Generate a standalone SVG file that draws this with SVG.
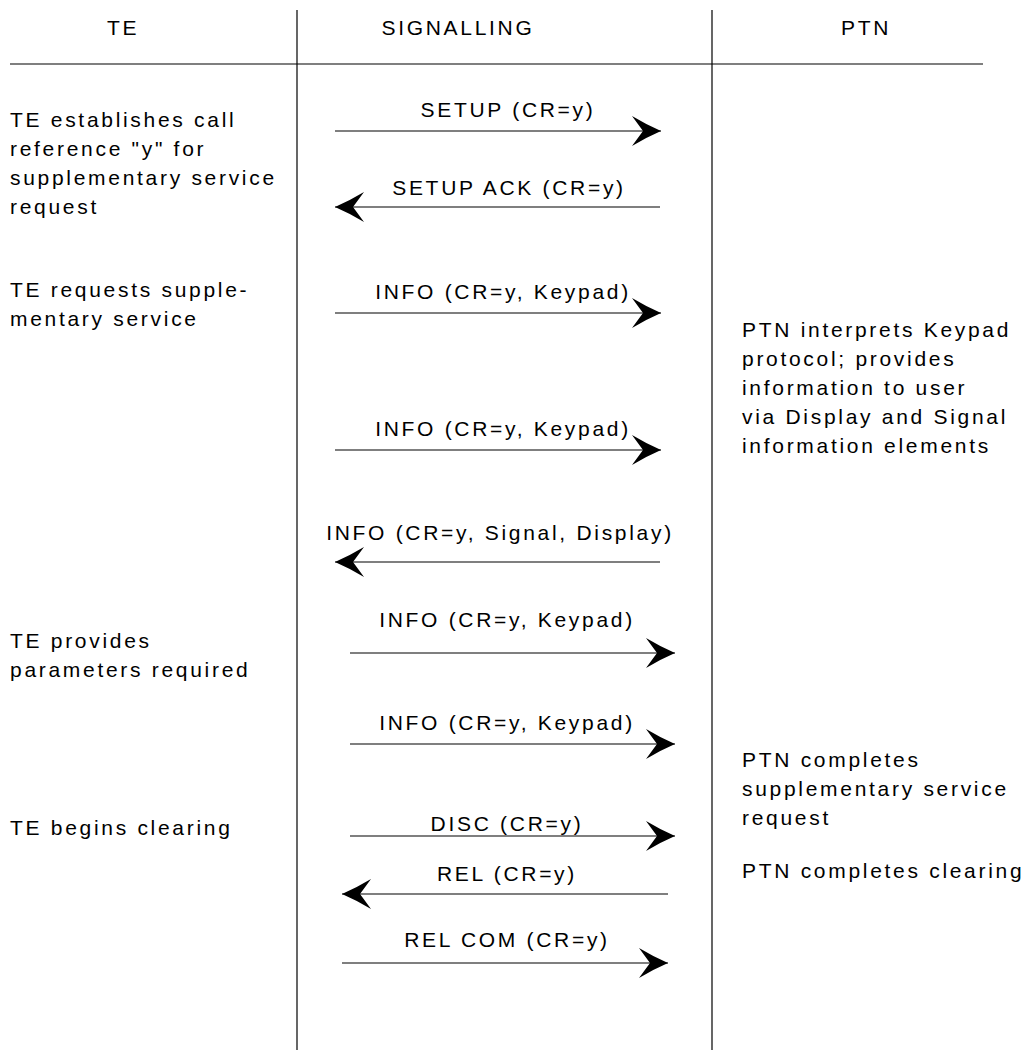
<svg xmlns="http://www.w3.org/2000/svg" width="1029" height="1050" viewBox="0 0 1029 1050">
<style>
text{font-family:"Liberation Sans",Arial,sans-serif;font-size:21px;letter-spacing:2.7px;fill:#000}
.m{text-anchor:middle}
.ln{stroke:#000;stroke-width:1.2;fill:none}
.msg{stroke:#000;stroke-width:1.2;fill:none;marker-end:url(#ah)}
</style>
<defs>
<marker id="ah" markerUnits="userSpaceOnUse" markerWidth="32" markerHeight="32" viewBox="-30 -16 32 32" refX="0" refY="0" orient="auto">
<path d="M0,0 Q-14,-6 -29,-15 L-18,0 L-29,15 Q-14,6 0,0Z" fill="#000"/>
</marker>
</defs>
<rect width="1029" height="1050" fill="#fff"/>
<g id="frame">
<line class="ln" x1="10" y1="64" x2="983" y2="64"/>
<line class="ln" x1="297" y1="10" x2="297" y2="1050"/>
<line class="ln" x1="712" y1="10" x2="712" y2="1050"/>
</g>
<g id="headers">
<text class="m" x="123" y="35">TE</text>
<text class="m" x="458" y="35">SIGNALLING</text>
<text class="m" x="866" y="35">PTN</text>
</g>
<g id="te-notes">
<text x="10" y="127">TE establishes call</text>
<text x="10" y="156">reference "y" for</text>
<text x="10" y="185">supplementary service</text>
<text x="10" y="214">request</text>
<text x="10" y="297">TE requests supple-</text>
<text x="10" y="326">mentary service</text>
<text x="10" y="648">TE provides</text>
<text x="10" y="677">parameters required</text>
<text x="10" y="835">TE begins clearing</text>
</g>
<g id="ptn-notes">
<text x="742" y="337">PTN interprets Keypad</text>
<text x="742" y="366">protocol; provides</text>
<text x="742" y="395">information to user</text>
<text x="742" y="424">via Display and Signal</text>
<text x="742" y="453">information elements</text>
<text x="742" y="767">PTN completes</text>
<text x="742" y="796">supplementary service</text>
<text x="742" y="825">request</text>
<text x="742" y="878">PTN completes clearing</text>
</g>
<g id="labels">
<text class="m" x="508" y="117">SETUP (CR=y)</text>
<text class="m" x="509" y="195">SETUP ACK (CR=y)</text>
<text class="m" x="503" y="299">INFO (CR=y, Keypad)</text>
<text class="m" x="503" y="436">INFO (CR=y, Keypad)</text>
<text class="m" x="500" y="540">INFO (CR=y, Signal, Display)</text>
<text class="m" x="507" y="627">INFO (CR=y, Keypad)</text>
<text class="m" x="507" y="730">INFO (CR=y, Keypad)</text>
<text class="m" x="507" y="831">DISC (CR=y)</text>
<text class="m" x="507" y="881">REL (CR=y)</text>
<text class="m" x="507" y="947">REL COM (CR=y)</text>
</g>
<g id="connectors">
<line class="msg" x1="335" y1="131" x2="661" y2="131"/>
<line class="msg" x1="660" y1="207" x2="335" y2="207"/>
<line class="msg" x1="335" y1="313" x2="661" y2="313"/>
<line class="msg" x1="335" y1="450" x2="661" y2="450"/>
<line class="msg" x1="660" y1="562" x2="335" y2="562"/>
<line class="msg" x1="350" y1="653" x2="675" y2="653"/>
<line class="msg" x1="350" y1="744" x2="675" y2="744"/>
<line class="msg" x1="350" y1="836" x2="675" y2="836"/>
<line class="msg" x1="668" y1="894" x2="342" y2="894"/>
<line class="msg" x1="342" y1="963" x2="668" y2="963"/>
</g>
</svg>
